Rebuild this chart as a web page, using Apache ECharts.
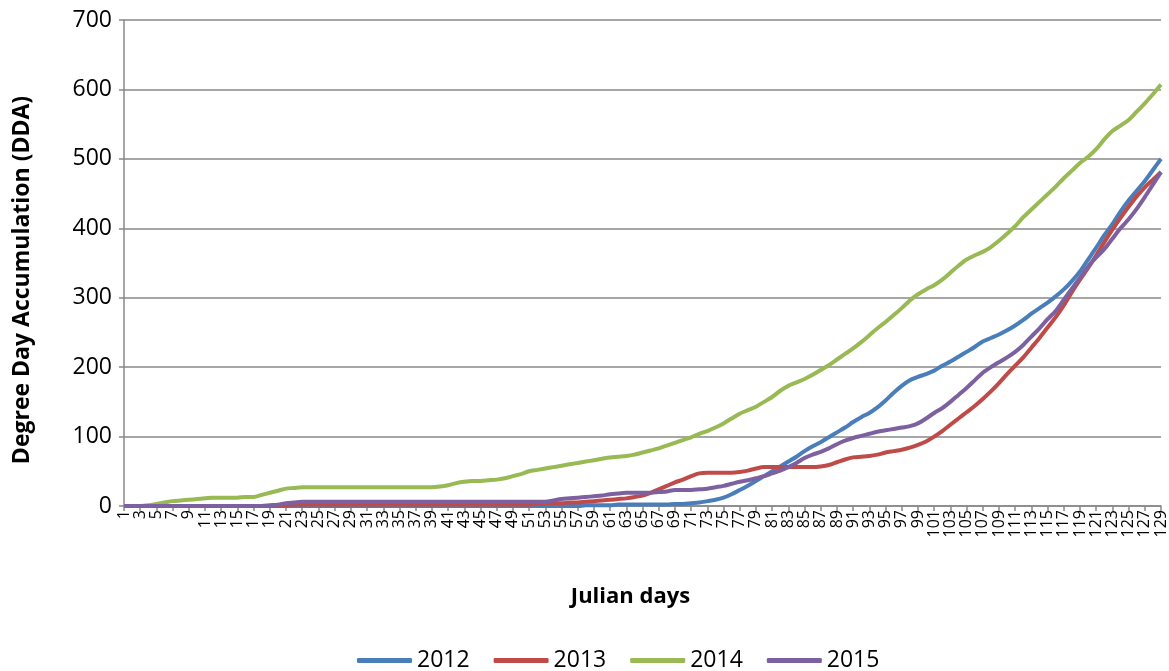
<!DOCTYPE html>
<html>
<head>
<meta charset="utf-8">
<script src="https://cdn.jsdelivr.net/npm/echarts@6/dist/echarts.min.js"></script>
<style>
  html, body { margin: 0; padding: 0; background: #fff; }
  #dda_chart { width: 1169px; height: 671px; }
</style>
</head>
<body>
<div id="dda_chart"></div>
<script>
const days = [
  1, 2, 3, 4, 5, 6, 7, 8, 9, 10, 11, 12, 13, 14, 15, 16, 17, 18, 19, 20,
  21, 22, 23, 24, 25, 26, 27, 28, 29, 30, 31, 32, 33, 34, 35, 36, 37, 38, 39, 40,
  41, 42, 43, 44, 45, 46, 47, 48, 49, 50, 51, 52, 53, 54, 55, 56, 57, 58, 59, 60,
  61, 62, 63, 64, 65, 66, 67, 68, 69, 70, 71, 72, 73, 74, 75, 76, 77, 78, 79, 80,
  81, 82, 83, 84, 85, 86, 87, 88, 89, 90, 91, 92, 93, 94, 95, 96, 97, 98, 99, 100,
  101, 102, 103, 104, 105, 106, 107, 108, 109, 110, 111, 112, 113, 114, 115, 116, 117, 118, 119, 120,
  121, 122, 123, 124, 125, 126, 127, 128, 129
];

const dda2012 = [
  0, 0, 0, 0, 0, 0, 0, 0, 0, 0,
  0, 0, 0, 0, 0, 0, 0, 0, 0, 0,
  0, 0, 0, 0, 0, 0, 0, 0, 0, 0,
  0, 0, 0, 0, 0, 0, 0, 0, 0, 0,
  0, 0, 0, 0, 0, 0, 0, 0, 0, 0,
  0, 0, 0, 0, 0, 0, 0, 1, 1, 1,
  1, 2, 2, 2, 2, 2, 2, 2, 3, 3,
  4, 5, 7, 9, 12, 17, 23, 29, 36, 43,
  50, 57, 64, 71, 79, 86, 92, 99, 106, 113,
  121, 128, 134, 142, 152, 163, 173, 181, 186, 190,
  195, 202, 208, 215, 222, 229, 237, 242, 247, 253,
  260, 268, 277, 285, 293, 302, 312, 324, 338, 355,
  372, 390, 406, 424, 440, 454, 468, 484, 500
];

const dda2013 = [
  0, 0, 0, 0, 0, 0, 0, 0, 0, 0,
  0, 0, 0, 0, 0, 0, 0, 0, 0, 0,
  1, 2, 2, 2, 2, 2, 2, 2, 2, 2,
  2, 2, 2, 2, 2, 2, 2, 2, 2, 2,
  2, 2, 2, 2, 2, 2, 2, 2, 2, 2,
  2, 3, 3, 4, 4, 5, 5, 6, 7, 8,
  9, 10, 11, 13, 15, 19, 24, 29, 34, 38,
  43, 47, 48, 48, 48, 48, 49, 51, 54, 56,
  56, 56, 56, 56, 56, 56, 57, 59, 63, 67,
  70, 71, 72, 74, 77, 79, 81, 84, 88, 93,
  100, 108, 117, 126, 135, 144, 154, 165, 177, 190,
  202, 214, 228, 242, 257, 272, 289, 308, 326, 343,
  361, 380, 398, 415, 431, 446, 459, 470, 481
];

const dda2014 = [
  0, 0, 0, 1, 3, 5, 7, 8, 9, 10,
  11, 12, 12, 12, 12, 13, 13, 16, 19, 22,
  25, 26, 27, 27, 27, 27, 27, 27, 27, 27,
  27, 27, 27, 27, 27, 27, 27, 27, 27, 28,
  30, 33, 35, 36, 36, 37, 38, 40, 43, 46,
  50, 52, 54, 56, 58, 60, 62, 64, 66, 68,
  70, 71, 72, 74, 77, 80, 83, 87, 91, 95,
  99, 104, 108, 113, 119, 126, 133, 138, 143, 150,
  157, 166, 173, 178, 183, 189, 196, 203, 211, 219,
  227, 236, 246, 256, 265, 275, 285, 296, 305, 312,
  318, 326, 336, 346, 355, 361, 366, 373, 382, 392,
  403, 416, 427, 438, 449, 460, 472, 483, 494, 503,
  514, 528, 540, 548, 556, 568, 580, 593, 607
];

const dda2015 = [
  0, 0, 0, 0, 0, 0, 0, 0, 0, 0,
  0, 0, 0, 0, 0, 0, 0, 0, 1, 2,
  4, 5, 6, 6, 6, 6, 6, 6, 6, 6,
  6, 6, 6, 6, 6, 6, 6, 6, 6, 6,
  6, 6, 6, 6, 6, 6, 6, 6, 6, 6,
  6, 6, 6, 8, 10, 11, 12, 13, 14, 15,
  17, 18, 19, 19, 19, 19, 20, 21, 23, 23,
  23, 24, 25, 27, 29, 32, 35, 37, 40, 43,
  47, 51, 56, 62, 69, 74, 78, 83, 89, 94,
  98, 101, 104, 107, 109, 111, 113, 115, 119, 126,
  134, 141, 150, 160, 170, 181, 192, 200, 207, 214,
  222, 232, 244, 256, 269, 281, 297, 313, 329, 345,
  358, 370, 385, 400, 413, 428, 445, 463, 481
];

const seriesNames = ["2012", "2013", "2014", "2015"];
const seriesColors = ["#4a7ebb", "#be4b48", "#98b954", "#7d60a0"];
const seriesData = [dda2012, dda2013, dda2014, dda2015];

const fontName = "'Open Sans', sans-serif";
const gridGray = "#888888";

const myChart = echarts.init(document.getElementById("dda_chart"));

const option = {
  animation: false,
  textStyle: { fontFamily: fontName, color: "#000" },
  grid: {
    left: 124,
    right: 8,
    top: 20,
    bottom: 165,
    containLabel: false,
  },
  legend: {
    top: 644,
    left: 352,
    icon: "roundRect",
    itemWidth: 55,
    itemHeight: 5,
    itemGap: 24,
    textStyle: { fontSize: 23, fontFamily: fontName, color: "#000" },
    data: seriesNames,
  },
  xAxis: {
    type: "category",
    boundaryGap: false,
    data: days,
    name: "Julian days",
    nameLocation: "middle",
    nameGap: 80,
    nameTextStyle: {
      fontSize: 22,
      fontWeight: "bold",
      fontFamily: fontName,
      color: "#000",
      padding: [0, 24, 0, 0],
    },
    axisLine: { lineStyle: { color: gridGray, width: 1.5 } },
    axisTick: { interval: 1, length: 5, lineStyle: { color: gridGray, width: 1.5 } },
    axisLabel: {
      interval: 1,
      rotate: 90,
      fontSize: 16,
      lineHeight: 16,
      margin: 4,
      color: "#000",
      fontFamily: fontName,
      showMinLabel: true,
      showMaxLabel: true,
      hideOverlap: false,
    },
    splitLine: { show: false },
  },
  yAxis: {
    type: "value",
    min: 0,
    max: 700,
    interval: 100,
    name: "Degree Day Accumulation (DDA)",
    nameLocation: "middle",
    nameGap: 90,
    nameTextStyle: {
      fontSize: 23,
      fontWeight: "bold",
      fontFamily: fontName,
      color: "#000",
      padding: [0, 34, 0, 0],
    },
    axisLine: { show: true, lineStyle: { color: gridGray, width: 1.5 } },
    axisTick: { show: true, length: 5, lineStyle: { color: gridGray, width: 1.5 } },
    axisLabel: { fontSize: 23, margin: 12, color: "#000", fontFamily: fontName },
    splitLine: { lineStyle: { color: gridGray, width: 1.5 } },
  },
  series: seriesNames.map((name, i) => ({
    name: name,
    type: "line",
    data: seriesData[i],
    smooth: 0.3,
    showSymbol: false,
    symbol: "none",
    color: seriesColors[i],
    lineStyle: { width: 4, color: seriesColors[i] },
  })),
};

myChart.setOption(option);
</script>
</body>
</html>
